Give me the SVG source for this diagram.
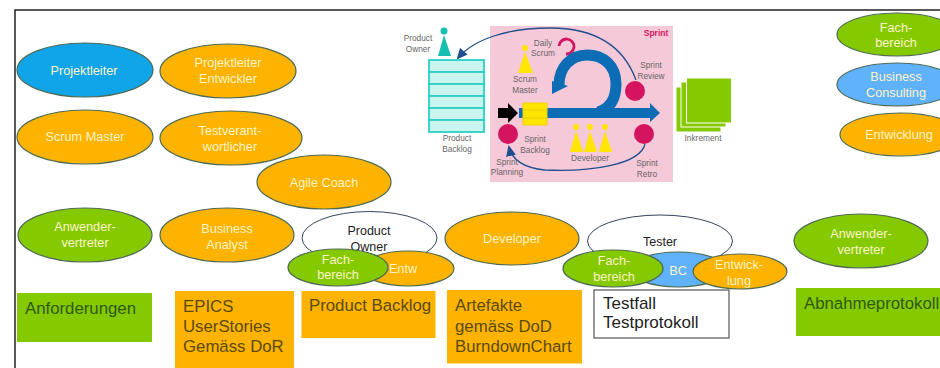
<svg xmlns="http://www.w3.org/2000/svg" width="940" height="368" viewBox="0 0 940 368">
<defs>
<marker id="ah" markerWidth="11" markerHeight="10" refX="9" refY="5" orient="auto" markerUnits="userSpaceOnUse"><path d="M0 0L11 5L0 10z" fill="#1f4e8c"/></marker>
</defs>
<style>
text{font-family:"Liberation Sans",Arial,sans-serif}
.e{stroke:#4d6a55;stroke-width:1.2}
.o{fill:#fdb300}.g{fill:#85c900}.b{fill:#0fa5e8}.l{fill:#5fb2fb}.w{fill:#fff;stroke:#33465c}
.t{font-size:12.700px;fill:#fff3c8;text-anchor:middle}
.k{font-size:12.500px;fill:#222;text-anchor:middle}
.r{font-size:16.800px;fill:#5a4a10}
.d{font-size:16.800px;fill:#2f5a10}
.s{font-size:8.300px;fill:#666;text-anchor:middle}
.bl{fill:#0c6cb4}.pk{fill:#d4145f}.yl{fill:#ffe600}.te{fill:#15c0b0}
.bar{fill:#c9f5ee;stroke:#2cd0c4;stroke-width:1.800}
</style>
<path d="M15 368V10H940" fill="none" stroke="#222" stroke-width="1.500"/>

<g id="projektleiter"><ellipse class="e b" cx="85" cy="70" rx="68" ry="27"/><text class="t" x="84" y="75">Projektleiter</text></g>
<g id="projektleiter-entwickler"><ellipse class="e o" cx="228" cy="71" rx="68" ry="27"/><text class="t" x="228" y="67">Projektleiter</text><text class="t" x="228" y="83">Entwickler</text></g>
<g id="scrum-master"><ellipse class="e o" cx="85" cy="137" rx="68" ry="27"/><text class="t" x="85" y="141">Scrum Master</text></g>
<g id="testverantwortlicher"><ellipse class="e o" cx="231" cy="138" rx="71" ry="27"/><text class="t" x="230" y="135">Testverant-</text><text class="t" x="230" y="151">wortlicher</text></g>
<g id="agile-coach"><ellipse class="e o" cx="324" cy="182" rx="67" ry="27"/><text class="t" x="324" y="187">Agile Coach</text></g>
<g id="anwendervertreter-1"><ellipse class="e g" cx="85" cy="235" rx="67" ry="27"/><text class="t" x="85" y="231">Anwender-</text><text class="t" x="85" y="247">vertreter</text></g>
<g id="business-analyst"><ellipse class="e o" cx="227" cy="235" rx="67" ry="27"/><text class="t" x="227" y="233">Business</text><text class="t" x="227" y="249">Analyst</text></g>

<g id="product-owner"><ellipse class="w" cx="369.500" cy="238" rx="67.500" ry="26.500"/><text class="k" x="369" y="235">Product</text><text class="k" x="369" y="251">Owner</text></g>
<g id="po-entw"><ellipse class="e o" cx="408" cy="268.500" rx="46" ry="17.500"/><text class="t" x="403" y="273">Entw</text></g>
<g id="po-fachbereich"><ellipse class="e g" cx="338" cy="267.500" rx="50" ry="18.500"/><text class="t" x="338" y="264">Fach-</text><text class="t" x="338" y="279">bereich</text></g>

<g id="developer"><ellipse class="e o" cx="512" cy="238.500" rx="67" ry="26.500"/><text class="t" x="512" y="243">Developer</text></g>

<g id="tester"><ellipse class="w" cx="660" cy="241" rx="72.500" ry="26"/><text class="k" x="660" y="246">Tester</text></g>
<g id="tester-bc"><ellipse class="e l" cx="678" cy="269.500" rx="48" ry="17.500"/><text class="t" x="678" y="275">BC</text></g>
<g id="tester-fachbereich"><ellipse class="e g" cx="613" cy="268.500" rx="50" ry="18.500"/><text class="t" x="614" y="265">Fach-</text><text class="t" x="614" y="281">bereich</text></g>
<g id="tester-entwicklung"><ellipse class="e o" cx="740" cy="271.500" rx="47" ry="17.500"/><text class="t" x="739" y="269">Entwick-</text><text class="t" x="739" y="285">lung</text></g>

<g id="fachbereich"><ellipse class="e g" cx="897" cy="34.500" rx="60" ry="21.500"/><text class="t" x="896" y="32">Fach-</text><text class="t" x="896" y="47">bereich</text></g>
<g id="business-consulting"><ellipse class="e l" cx="897" cy="84.500" rx="60" ry="21.500"/><text class="t" x="896" y="81">Business</text><text class="t" x="896" y="97">Consulting</text></g>
<g id="entwicklung"><ellipse class="e o" cx="900" cy="134.500" rx="60" ry="21.500"/><text class="t" x="899" y="139">Entwicklung</text></g>
<g id="anwendervertreter-2"><ellipse class="e g" cx="861" cy="241" rx="67" ry="27"/><text class="t" x="861" y="238">Anwender-</text><text class="t" x="861" y="254">vertreter</text></g>

<g id="anforderungen"><rect class="g" x="17" y="293" width="135" height="49"/><text class="d" x="25" y="314">Anforderungen</text></g>
<g id="epics"><rect class="o" x="175" y="291" width="119" height="77"/><text class="r" x="183" y="312">EPICS</text><text class="r" x="183" y="332">UserStories</text><text class="r" x="183" y="352">Gemäss DoR</text></g>
<g id="product-backlog-box"><rect class="o" x="301.500" y="291" width="134" height="47"/><text class="r" x="309" y="311">Product Backlog</text></g>
<g id="artefakte"><rect class="o" x="447" y="290" width="135" height="73.500"/><text class="r" x="455" y="311">Artefakte</text><text class="r" x="455" y="332">gemäss DoD</text><text class="r" x="455" y="352">BurndownChart</text></g>
<g id="testfall"><rect x="594" y="290" width="135" height="48" fill="#fff" stroke="#555" stroke-width="1.200"/><text x="603" y="309" font-size="17" fill="#222">Testfall</text><text x="603" y="328" font-size="17" fill="#222">Testprotokoll</text></g>
<g id="abnahmeprotokoll"><rect class="g" x="796" y="288" width="144" height="48"/><text class="d" x="804" y="309">Abnahmeprotokoll</text></g>

<g id="sprint-panel">
<rect x="490" y="26" width="183" height="156" fill="#f6c9d9"/>
<text x="656" y="36" font-size="8.500" font-weight="bold" fill="#d4145f" text-anchor="middle">Sprint</text>
</g>
<g id="product-owner-figure"><circle class="te" cx="444" cy="31" r="3.500"/><path class="te" d="M444 35L438 56H451z"/><text class="s" x="418" y="41">Product</text><text class="s" x="418" y="52">Owner</text></g>
<g id="product-backlog-stack">
<rect class="bar" x="429" y="60" width="55" height="12"/><rect class="bar" x="429" y="72" width="55" height="12"/><rect class="bar" x="429" y="84" width="55" height="12"/><rect class="bar" x="429" y="96" width="55" height="12"/><rect class="bar" x="429" y="108" width="55" height="12"/><rect class="bar" x="429" y="120" width="55" height="12"/>
<text class="s" x="457" y="141">Product</text><text class="s" x="457" y="152">Backlog</text>
</g>
<g id="scrum-master-figure"><circle class="yl" cx="525" cy="48" r="3"/><path class="yl" d="M525 52L518 73H533z"/><text class="s" x="525" y="82">Scrum</text><text class="s" x="525" y="93">Master</text></g>
<g id="daily-scrum"><text class="s" x="543" y="46">Daily</text><text class="s" x="543" y="56">Scrum</text><path d="M559 46A7.500 7.500 0 1 1 566 54" fill="none" stroke="#d4145f" stroke-width="2.800"/></g>
<g id="sprint-flow">
<path d="M598 112C612 108 616 96 616 84C616 66 604 55 587 55C570 55 559 68 559 85" fill="none" stroke="#0c6cb4" stroke-width="11"/>
<path class="bl" d="M552 81L568 86L552 94z"/>
<path class="bl" d="M547 108H650V103L660 113L650 122V118H547z"/>
<path d="M498 108H508V103L518 113L508 123V118H498z" fill="#000"/>
<rect x="519" y="108" width="4" height="10" fill="#0c6cb4"/>
<rect x="523" y="103" width="24" height="7" class="yl" stroke="#f2d000"/><rect x="523" y="110" width="24" height="8" class="yl" stroke="#f2d000"/><rect x="523" y="118" width="24" height="7" class="yl" stroke="#f2d000"/>
</g>
<g id="sprint-ceremonies">
<path d="M636 80C622 42 590 28 550 28C510 28 475 38 458 58" fill="none" stroke="#1f4e8c" stroke-width="1.300" marker-end="url(#ah)"/>
<path d="M645 144C640 165 590 172 545 170C525 168 512 160 509 147" fill="none" stroke="#1f4e8c" stroke-width="1.300" marker-end="url(#ah)"/>
<circle class="pk" cx="508" cy="134" r="10"/><circle class="pk" cx="635" cy="91" r="10"/><circle class="pk" cx="644" cy="134" r="10"/>
<text class="s" x="651" y="68">Sprint</text><text class="s" x="651" y="79">Review</text>
<text class="s" x="535" y="142">Sprint</text><text class="s" x="535" y="153">Backlog</text>
<text class="s" x="507" y="165">Sprint</text><text class="s" x="507" y="175">Planning</text>
<text class="s" x="647" y="166">Sprint</text><text class="s" x="647" y="177">Retro</text>
</g>
<g id="developer-figures">
<circle class="yl" cx="576" cy="127" r="3"/><path class="yl" d="M576 131L570 152H583z"/>
<circle class="yl" cx="590" cy="127" r="3"/><path class="yl" d="M590 131L584 152H597z"/>
<circle class="yl" cx="605" cy="127" r="3"/><path class="yl" d="M605 131L599 152H612z"/>
<text class="s" x="590" y="161">Developer</text>
</g>
<g id="inkrement">
<rect x="676" y="87" width="45" height="45" fill="#85c900" stroke="#fff" stroke-width="1"/>
<rect x="681" y="82" width="45" height="45" fill="#85c900" stroke="#fff" stroke-width="1"/>
<rect x="686.500" y="78" width="45" height="45" fill="#85c900" stroke="#fff" stroke-width="1"/>
<text class="s" x="703" y="141">Inkrement</text>
</g>
</svg>
